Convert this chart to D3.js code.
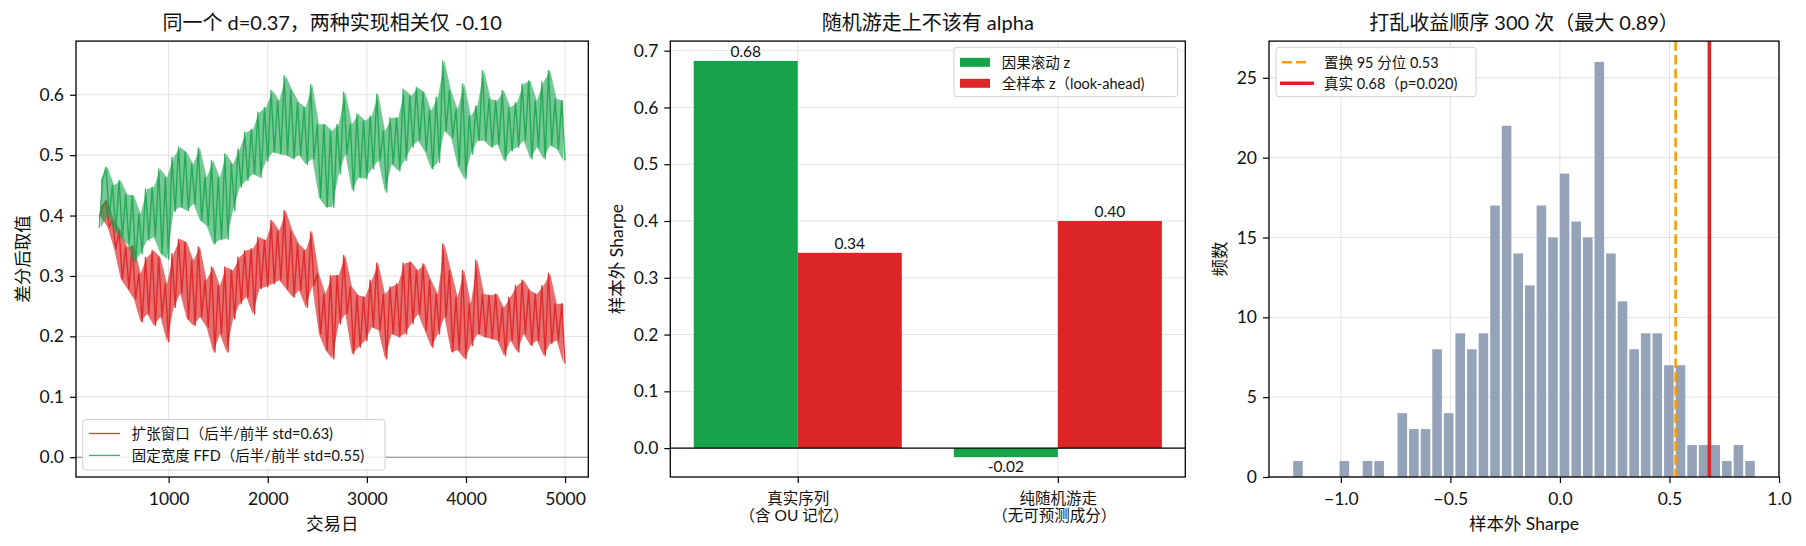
<!DOCTYPE html>
<html>
<head>
<meta charset="utf-8">
<script src="https://cdn.jsdelivr.net/npm/d3@7"></script>
<style>
  body { margin: 0; background: #fff; }
  svg text { fill: #111; }
</style>
</head>
<body>
<svg id="chart" width="1806" height="546"></svg>
<script>
const FONT = 'Lato, "Noto Sans CJK SC", sans-serif';

const lineStartDay = 300;
const lineEndDay = 4999;
const expandingPath = [
  0.397, 0.415, 0.425, 0.381, 0.392, 0.345, 0.375, 0.295, 0.348, 0.279,
  0.350, 0.262, 0.304, 0.224, 0.331, 0.237, 0.342, 0.218, 0.331, 0.232,
  0.287, 0.191, 0.337, 0.248, 0.361, 0.271, 0.356, 0.229, 0.326, 0.218,
  0.348, 0.232, 0.293, 0.215, 0.315, 0.174, 0.284, 0.204, 0.315, 0.174,
  0.309, 0.229, 0.331, 0.254, 0.342, 0.265, 0.345, 0.237, 0.364, 0.279,
  0.359, 0.282, 0.392, 0.287, 0.375, 0.293, 0.408, 0.279, 0.375, 0.265,
  0.353, 0.276, 0.342, 0.248, 0.373, 0.284, 0.304, 0.204, 0.270, 0.177,
  0.301, 0.163, 0.301, 0.221, 0.334, 0.237, 0.282, 0.171, 0.268, 0.182,
  0.265, 0.193, 0.293, 0.215, 0.321, 0.210, 0.270, 0.163, 0.282, 0.204,
  0.287, 0.199, 0.321, 0.204, 0.323, 0.221, 0.309, 0.237, 0.320, 0.210,
  0.293, 0.182, 0.270, 0.204, 0.353, 0.232, 0.309, 0.174, 0.265, 0.177,
  0.309, 0.163, 0.254, 0.185, 0.326, 0.204, 0.270, 0.199, 0.268, 0.196,
  0.270, 0.193, 0.248, 0.168, 0.265, 0.193, 0.284, 0.174, 0.293, 0.204,
  0.276, 0.185, 0.270, 0.193, 0.284, 0.168, 0.304, 0.188, 0.254, 0.193,
  0.254, 0.155
];
const ffdPath = [
  0.380, 0.460, 0.480, 0.400, 0.450, 0.375, 0.458, 0.364, 0.435, 0.353,
  0.433, 0.323, 0.403, 0.337, 0.444, 0.359, 0.447, 0.364, 0.477, 0.337,
  0.463, 0.328, 0.496, 0.407, 0.513, 0.414, 0.505, 0.408, 0.485, 0.419,
  0.512, 0.392, 0.463, 0.383, 0.491, 0.353, 0.463, 0.360, 0.502, 0.361,
  0.485, 0.408, 0.510, 0.447, 0.538, 0.458, 0.543, 0.469, 0.571, 0.463,
  0.579, 0.490, 0.607, 0.505, 0.590, 0.502, 0.631, 0.500, 0.607, 0.494,
  0.587, 0.500, 0.579, 0.485, 0.617, 0.494, 0.551, 0.430, 0.551, 0.414,
  0.540, 0.414, 0.551, 0.469, 0.604, 0.502, 0.551, 0.441, 0.568, 0.463,
  0.557, 0.461, 0.565, 0.477, 0.601, 0.491, 0.540, 0.439, 0.562, 0.485,
  0.562, 0.474, 0.609, 0.491, 0.598, 0.513, 0.612, 0.524, 0.604, 0.507,
  0.574, 0.477, 0.596, 0.488, 0.656, 0.540, 0.607, 0.529, 0.576, 0.482,
  0.618, 0.461, 0.565, 0.502, 0.582, 0.524, 0.640, 0.524, 0.593, 0.513,
  0.590, 0.518, 0.607, 0.491, 0.579, 0.507, 0.587, 0.513, 0.618, 0.524,
  0.623, 0.494, 0.590, 0.513, 0.621, 0.494, 0.640, 0.516, 0.593, 0.510,
  0.590, 0.491
];
const dayTicks = [1000, 2000, 3000, 4000, 5000];
const valueTicks = [0, 0.1, 0.2, 0.3, 0.4, 0.5, 0.6];
const lineLabels = ['扩张窗口（后半/前半 std=0.63)', '固定宽度 FFD（后半/前半 std=0.55)'];

// ---- panel 2: out-of-sample Sharpe bars ----
const barGroups = [['真实序列', '（含 OU 记忆）'], ['纯随机游走', '（无可预测成分）']];
const causalSharpe = [0.682, -0.016];
const lookaheadSharpe = [0.344, 0.400];
const causalText = ['0.68', '-0.02'];
const lookaheadText = ['0.34', '0.40'];
const sharpeTicks = [0, 0.1, 0.2, 0.3, 0.4, 0.5, 0.6, 0.7];
const barLegend = ['因果滚动 z', '全样本 z（look-ahead)'];

// ---- panel 3: permutation histogram ----
const histMin = -1.222;
const histMax = 0.894;
const histCounts = [1, 0, 0, 0, 1, 0, 1, 1, 0, 4, 3, 3, 8, 4, 9, 8, 9, 17, 22, 14,
                    12, 17, 15, 19, 16, 15, 26, 14, 11, 8, 9, 9, 7, 7, 2, 2, 2, 1, 2, 1];
const permQ95 = 0.528;
const realSharpe = 0.682;
const histXTicks = [-1.0, -0.5, 0.0, 0.5, 1.0];
const histYTicks = [0, 5, 10, 15, 20, 25];
const histLegend = ['置换 95 分位 0.53', '真实 0.68（p=0.020)'];

const GREEN = '#16a34a', RED = '#dc2626', ORANGE = '#f59e0b', SLATE = '#94a3b8';
const TOP = 41.1, BOTTOM = 477;

const svg = d3.select('#chart');

// matplotlib style 5% margins
function pad(lo, hi) {
  const r = hi - lo;
  return [lo - 0.05 * r, hi + 0.05 * r];
}

function axes(left, right) {
  const g = svg.append('g');
  return {
    g,
    grid: g.append('g'),
    marks: g.append('g'),
    top: g.append('g'),
    left, right
  };
}

function drawGrid(p, x, y, xt, yt) {
  if (xt) {
    p.grid.selectAll(null).data(xt).join('line')
      .attr('x1', d => x(d)).attr('x2', d => x(d))
      .attr('y1', TOP).attr('y2', BOTTOM)
      .attr('stroke', '#e2e2e2').attr('stroke-width', 1);
  }
  p.grid.selectAll(null).data(yt).join('line')
    .attr('x1', p.left).attr('x2', p.right)
    .attr('y1', d => y(d)).attr('y2', d => y(d))
    .attr('stroke', '#e2e2e2').attr('stroke-width', 1);
}

function styleAxis(sel, fs) {
  sel.attr('font-family', FONT).attr('font-size', null);
  sel.select('.domain').remove();
  sel.selectAll('.tick line').attr('stroke', '#000').attr('stroke-width', 1.2);
  sel.selectAll('.tick text').attr('fill', '#111').style('font-size', fs + 'px');
}

function drawFrame(p, x, y, xt, yt, xfmt, yfmt) {
  const xa = p.top.append('g').attr('transform', `translate(0,${BOTTOM})`)
    .call(d3.axisBottom(x).tickValues(xt).tickFormat(xfmt).tickSize(6).tickPadding(10));
  styleAxis(xa, 17.5);
  const ya = p.top.append('g').attr('transform', `translate(${p.left},0)`)
    .call(d3.axisLeft(y).tickValues(yt).tickFormat(yfmt).tickSize(6).tickPadding(6));
  styleAxis(ya, 17.5);
  p.top.append('rect')
    .attr('x', p.left).attr('y', TOP)
    .attr('width', p.right - p.left).attr('height', BOTTOM - TOP)
    .attr('fill', 'none').attr('stroke', '#000').attr('stroke-width', 1.3);
  return xa;
}

function labels(p, title, xlabel, ylabel, ylabelX) {
  const cx = (p.left + p.right) / 2;
  p.top.append('text').attr('x', cx).attr('y', 29.5).attr('text-anchor', 'middle')
    .attr('font-family', FONT).style('font-size', '20px').text(title);
  if (xlabel) {
    p.top.append('text').attr('x', cx).attr('y', 530).attr('text-anchor', 'middle')
      .attr('font-family', FONT).style('font-size', '17.5px').text(xlabel);
  }
  p.top.append('text')
    .attr('transform', `translate(${ylabelX},${(TOP + BOTTOM) / 2}) rotate(-90)`)
    .attr('text-anchor', 'middle').attr('dy', '0.35em')
    .attr('font-family', FONT).style('font-size', '17.5px').text(ylabel);
}

function legendBox(p, x, y, w, h) {
  const lg = p.top.append('g');
  lg.append('rect').attr('x', x).attr('y', y).attr('width', w).attr('height', h)
    .attr('rx', 3).attr('fill', '#fff').attr('fill-opacity', 0.85)
    .attr('stroke', '#d0d0d0').attr('stroke-width', 1);
  return lg;
}

function legendText(lg, x, cy, txt) {
  lg.append('text').attr('x', x).attr('y', cy).attr('dy', '0.36em')
    .attr('font-family', FONT).style('font-size', '14.5px').text(txt);
}

// ================= panel 1 =================
(function () {
  const p = axes(76, 588.3);
  const x = d3.scaleLinear().domain(pad(lineStartDay, lineEndDay)).range([p.left, p.right]);
  const y = d3.scaleLinear().domain(pad(0, d3.max(ffdPath))).range([BOTTOM, TOP]);
  drawGrid(p, x, y, dayTicks, valueTicks);

  const step = (lineEndDay - lineStartDay) / (expandingPath.length - 1);
  const line = d3.line().x((d, i) => x(lineStartDay + i * step)).y(d => y(d));

  const band = d3.area()
    .x(d => x(lineStartDay + (d.i + 0.5) * step))
    .y0(d => y(d.lo)).y1(d => y(d.hi));
  const pairs = path => d3.range(0, path.length - 1, 2).map(i => ({
    i, hi: Math.max(path[i], path[i + 1]), lo: Math.min(path[i], path[i + 1])
  }));

  p.marks.append('line').attr('x1', p.left).attr('x2', p.right)
    .attr('y1', y(0)).attr('y2', y(0)).attr('stroke', '#888').attr('stroke-width', 1.1);

  [[expandingPath, RED, 0.92], [ffdPath, GREEN, 0.82]].forEach(s => {
    p.marks.append('path').datum(pairs(s[0])).attr('d', band)
      .attr('fill', s[1]).attr('fill-opacity', 0.72 * s[2]);
    p.marks.append('path').datum(s[0]).attr('d', line)
      .attr('fill', 'none').attr('stroke', s[1]).attr('stroke-opacity', s[2])
      .attr('stroke-width', 1.4).attr('stroke-linejoin', 'round');
  });

  drawFrame(p, x, y, dayTicks, valueTicks, d3.format('d'), d3.format('.1f'));
  labels(p, '同一个 d=0.37，两种实现相关仅 -0.10', '交易日', '差分后取值', 22.7);

  const lg = legendBox(p, 82.7, 419.6, 302.3, 50.4);
  [[RED, 433.5, 0.92], [GREEN, 455.4, 0.82]].forEach((e, i) => {
    lg.append('line').attr('x1', 89).attr('x2', 120).attr('y1', e[1]).attr('y2', e[1])
      .attr('stroke', e[0]).attr('stroke-opacity', e[2]).attr('stroke-width', 1.3);
    legendText(lg, 131.7, e[1], lineLabels[i]);
  });
})();

// ================= panel 2 =================
(function () {
  const p = axes(670.3, 1185.3);
  const bw = 0.4;
  const x = d3.scaleLinear().domain(pad(-bw, barGroups.length - 1 + bw)).range([p.left, p.right]);
  const all = causalSharpe.concat(lookaheadSharpe);
  const y = d3.scaleLinear().domain(pad(d3.min(all), d3.max(all))).range([BOTTOM, TOP]);
  const idx = d3.range(barGroups.length);
  drawGrid(p, x, y, idx, sharpeTicks);

  const series = [
    { vals: causalSharpe, txt: causalText, off: -bw, color: GREEN },
    { vals: lookaheadSharpe, txt: lookaheadText, off: 0, color: RED }
  ];
  series.forEach(s => {
    p.marks.selectAll(null).data(idx).join('rect')
      .attr('x', i => x(i + s.off))
      .attr('width', x(bw) - x(0))
      .attr('y', i => y(Math.max(0, s.vals[i])))
      .attr('height', i => Math.abs(y(s.vals[i]) - y(0)))
      .attr('fill', s.color);
    p.marks.selectAll(null).data(idx).join('text')
      .attr('x', i => x(i + s.off + bw / 2))
      .attr('y', i => s.vals[i] >= 0 ? y(s.vals[i]) - 4 : y(s.vals[i]) + 15)
      .attr('text-anchor', 'middle')
      .attr('font-family', FONT).style('font-size', '15.5px')
      .text(i => s.txt[i]);
  });
  p.marks.append('line').attr('x1', p.left).attr('x2', p.right)
    .attr('y1', y(0)).attr('y2', y(0)).attr('stroke', '#000').attr('stroke-width', 1.1);

  const xa = drawFrame(p, x, y, idx, sharpeTicks, () => '', d3.format('.1f'));
  xa.selectAll('.tick').each(function (i) {
    const t = d3.select(this).append('text').attr('text-anchor', 'middle')
      .attr('font-family', FONT).style('font-size', '15.5px').attr('fill', '#111');
    t.append('tspan').attr('x', 0).attr('y', 27).text(barGroups[i][0]);
    t.append('tspan').attr('x', -4).attr('y', 43.5).text(barGroups[i][1]);
  });
  labels(p, '随机游走上不该有 alpha', null, '样本外 Sharpe', 616.7);

  const lg = legendBox(p, 954, 47.3, 223.7, 49.4);
  [[GREEN, 62.3], [RED, 83.3]].forEach((e, i) => {
    lg.append('rect').attr('x', 960).attr('y', e[1] - 4.5).attr('width', 30).attr('height', 9)
      .attr('fill', e[0]);
    legendText(lg, 1001.7, e[1], barLegend[i]);
  });
})();

// ================= panel 3 =================
(function () {
  const p = axes(1269, 1779);
  const x = d3.scaleLinear().domain(pad(histMin, histMax)).range([p.left, p.right]);
  const y = d3.scaleLinear().domain([0, d3.max(histCounts) * 1.05]).range([BOTTOM, TOP]);
  drawGrid(p, x, y, histXTicks, histYTicks);

  const bin = (histMax - histMin) / histCounts.length;
  p.marks.selectAll(null).data(histCounts).join('rect')
    .attr('x', (d, i) => x(histMin + i * bin) + 1)
    .attr('width', x(bin) - x(0) - 2)
    .attr('y', d => y(d))
    .attr('height', d => y(0) - y(d))
    .attr('fill', SLATE);

  p.marks.append('line').attr('x1', x(permQ95)).attr('x2', x(permQ95))
    .attr('y1', TOP).attr('y2', BOTTOM)
    .attr('stroke', ORANGE).attr('stroke-width', 2.6).attr('stroke-dasharray', '9.6,4.2');
  p.marks.append('line').attr('x1', x(realSharpe)).attr('x2', x(realSharpe))
    .attr('y1', TOP).attr('y2', BOTTOM)
    .attr('stroke', RED).attr('stroke-width', 3.6);

  drawFrame(p, x, y, histXTicks, histYTicks, d3.format('.1f'), d3.format('d'));
  labels(p, '打乱收益顺序 300 次（最大 0.89）', '样本外 Sharpe', '频数', 1220);

  const lg = legendBox(p, 1276, 47.3, 200, 49.4);
  lg.append('line').attr('x1', 1282).attr('x2', 1310).attr('y1', 62.3).attr('y2', 62.3)
    .attr('stroke', ORANGE).attr('stroke-width', 2.6).attr('stroke-dasharray', '10,4');
  lg.append('line').attr('x1', 1280).attr('x2', 1314).attr('y1', 83.3).attr('y2', 83.3)
    .attr('stroke', RED).attr('stroke-width', 3.6);
  legendText(lg, 1324, 62.3, histLegend[0]);
  legendText(lg, 1324, 83.3, histLegend[1]);
})();
</script>
</body>
</html>
